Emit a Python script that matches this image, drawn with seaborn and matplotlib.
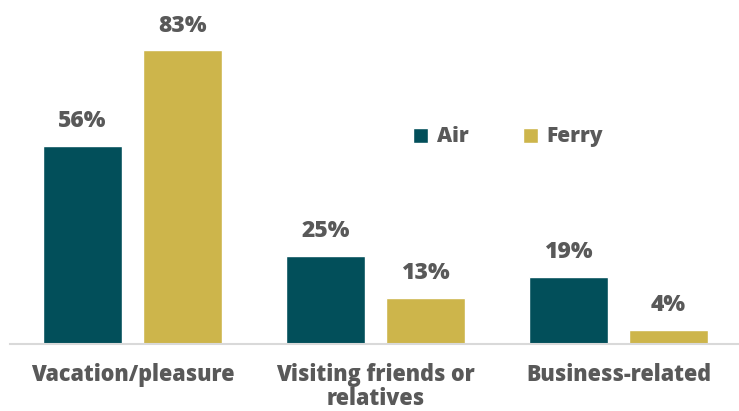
import matplotlib
matplotlib.use("Agg")
import matplotlib.pyplot as plt
import seaborn as sns
import pandas as pd

categories = ["Vacation/pleasure", "Visiting friends or\nrelatives", "Business-related"]
series = ["Air", "Ferry"]
air_values = [56, 25, 19]
ferry_values = [83, 13, 4]

colors = {"Air": "#024F5A", "Ferry": "#CDB54B"}
text_color = "#595959"

df = pd.DataFrame({
    "category": categories * 2,
    "mode": ["Air"] * 3 + ["Ferry"] * 3,
    "share": air_values + ferry_values,
})

sns.set_theme(style="white")
plt.rcParams["font.family"] = ["Open Sans", "DejaVu Sans"]

fig = plt.figure(figsize=(7.39, 4.11), dpi=100)
ax = fig.add_axes([0.0135, 0.163, 0.9865, 0.775])

sns.barplot(data=df, x="category", y="share", hue="mode", order=categories,
            hue_order=series, palette=colors, width=0.823, gap=0.21,
            saturation=1, ax=ax, legend=True)

for container in ax.containers:
    ax.bar_label(container, labels=[f"{v:.0f}%" for v in container.datavalues],
                 padding=9, fontsize=16.5, fontweight=800, color=text_color)

ax.set_xlim(-0.504, 2.496)
ax.set_ylim(0, 90)
ax.set_xlabel("")
ax.set_ylabel("")
ax.set_yticks([])
ax.tick_params(axis="x", length=0, pad=14, labelsize=15.5, labelcolor=text_color)
for lbl in ax.get_xticklabels():
    lbl.set_fontweight(800)
    lbl.set_linespacing(0.95)
for side in ["top", "right", "left"]:
    ax.spines[side].set_visible(False)
ax.spines["bottom"].set_color("#D9D9D9")
ax.spines["bottom"].set_linewidth(1.5)

leg = ax.legend(loc="center", bbox_to_anchor=(0.683, 0.65), ncol=2, frameon=False,
                handlelength=0.75, handleheight=0.75, handletextpad=0.4,
                columnspacing=2.6, prop={"size": 15, "weight": 800})
for t in leg.get_texts():
    t.set_color(text_color)

fig.savefig("out.png", dpi=100)
